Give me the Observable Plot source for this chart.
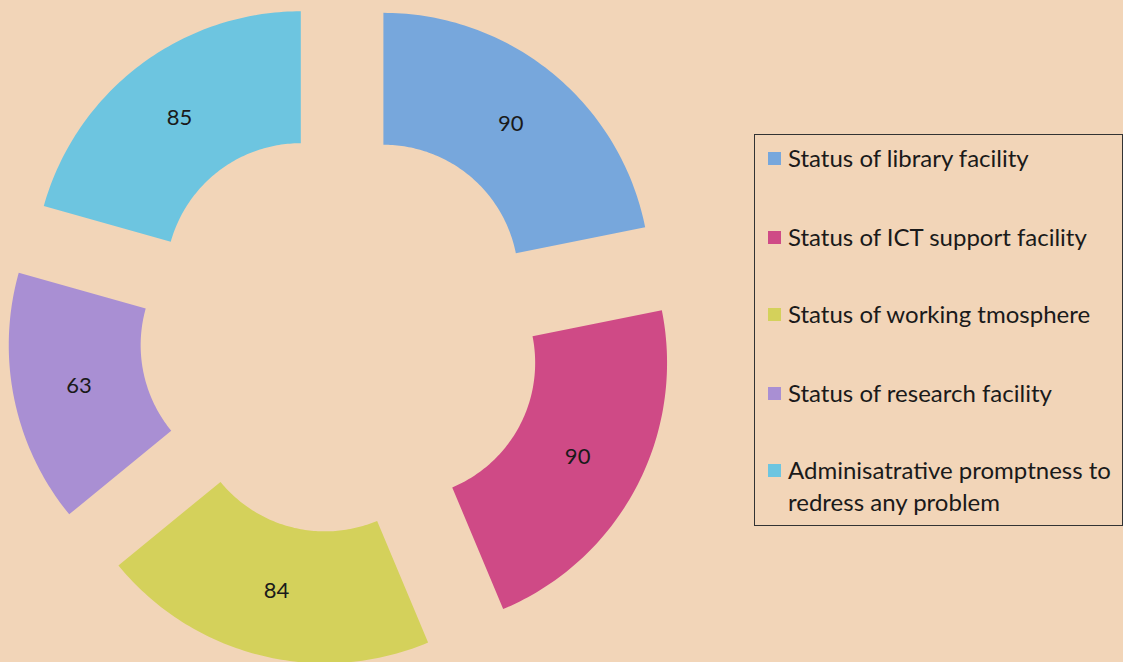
<!DOCTYPE html>
<html>
<head>
<meta charset="utf-8">
<script src="https://cdn.jsdelivr.net/npm/d3@7"></script>
<script src="https://cdn.jsdelivr.net/npm/@observablehq/plot@0.6"></script>
<style>
  html, body { margin: 0; padding: 0; background: #f2d5b8; }
  #wrap { position: relative; width: 1123px; height: 662px; overflow: hidden; background: #f2d5b8; }
  #legend {
    position: absolute; left: 754px; top: 134px; width: 369px; height: 392px;
    border: 1.3px solid #333; box-sizing: border-box;
    font-family: Lato, "Open Sans", sans-serif; font-size: 24px; color: #1a1a1a;
  }
  .item { position: absolute; left: 33px; line-height: 32px; white-space: nowrap; }
  .sw { position: absolute; left: -20px; top: 10px; width: 13px; height: 13px; }
</style>
</head>
<body>
<div id="wrap"></div>
<script>
const categories = [
  "Status of library facility",
  "Status of ICT support facility",
  "Status of working tmosphere",
  "Status of research facility",
  "Adminisatrative promptness to redress any problem"
];
const legendLines = [
  ["Status of library facility"],
  ["Status of ICT support facility"],
  ["Status of working tmosphere"],
  ["Status of research facility"],
  ["Adminisatrative promptness to", "redress any problem"]
];
const values = [90, 90, 84, 63, 85];
const colors = ["#77a7dc", "#cf4a86", "#d4d15b", "#a98fd3", "#6dc5e0"];

// Doughnut geometry (relative to outer radius = 1)
const innerRatio = 0.506;
const explode = 0.25;
const arcs = d3.pie().sort(null).value(d => d)(values);

const polys = [];
const labels = [];
arcs.forEach((a, i) => {
  const mid = (a.startAngle + a.endAngle) / 2;
  const dx = explode * Math.sin(mid), dy = explode * Math.cos(mid);
  const n = 80;
  for (let k = 0; k <= n; k++) {
    const t = a.startAngle + (a.endAngle - a.startAngle) * k / n;
    polys.push({cat: categories[i], x: dx + Math.sin(t), y: dy + Math.cos(t)});
  }
  for (let k = n; k >= 0; k--) {
    const t = a.startAngle + (a.endAngle - a.startAngle) * k / n;
    polys.push({cat: categories[i], x: dx + innerRatio * Math.sin(t), y: dy + innerRatio * Math.cos(t)});
  }
  const rm = (1 + innerRatio) / 2;
  labels.push({cat: categories[i], v: values[i], x: dx + rm * Math.sin(mid), y: dy + rm * Math.cos(mid)});
});

const chart = Plot.plot({
  width: 1123,
  height: 662,
  margin: 0,
  x: {domain: [-340.6 / 267, (1123 - 340.6) / 267], axis: null},
  y: {domain: [-331 / 267, 331 / 267], axis: null},
  color: {domain: categories, range: colors},
  style: {background: "transparent"},
  marks: [
    Plot.line(polys, {x: "x", y: "y", z: "cat", fill: "cat", stroke: "none", curve: "linear-closed"}),
    Plot.text(labels, {x: "x", y: "y", text: d => String(d.v), fontSize: 22, fill: "#1a1a1a", fontFamily: "Lato, 'Open Sans', sans-serif"})
  ]
});
const wrap = document.getElementById("wrap");
wrap.appendChild(chart);

const legend = document.createElement("div");
legend.id = "legend";
const tops = [7, 86, 163, 242, 319];
legendLines.forEach((lines, i) => {
  const it = document.createElement("div");
  it.className = "item";
  it.style.top = tops[i] + "px";
  const sw = document.createElement("span");
  sw.className = "sw";
  sw.style.background = colors[i];
  it.appendChild(sw);
  lines.forEach((ln, j) => {
    if (j > 0) it.appendChild(document.createElement("br"));
    it.appendChild(document.createTextNode(ln));
  });
  legend.appendChild(it);
});
wrap.appendChild(legend);
</script>
</body>
</html>
